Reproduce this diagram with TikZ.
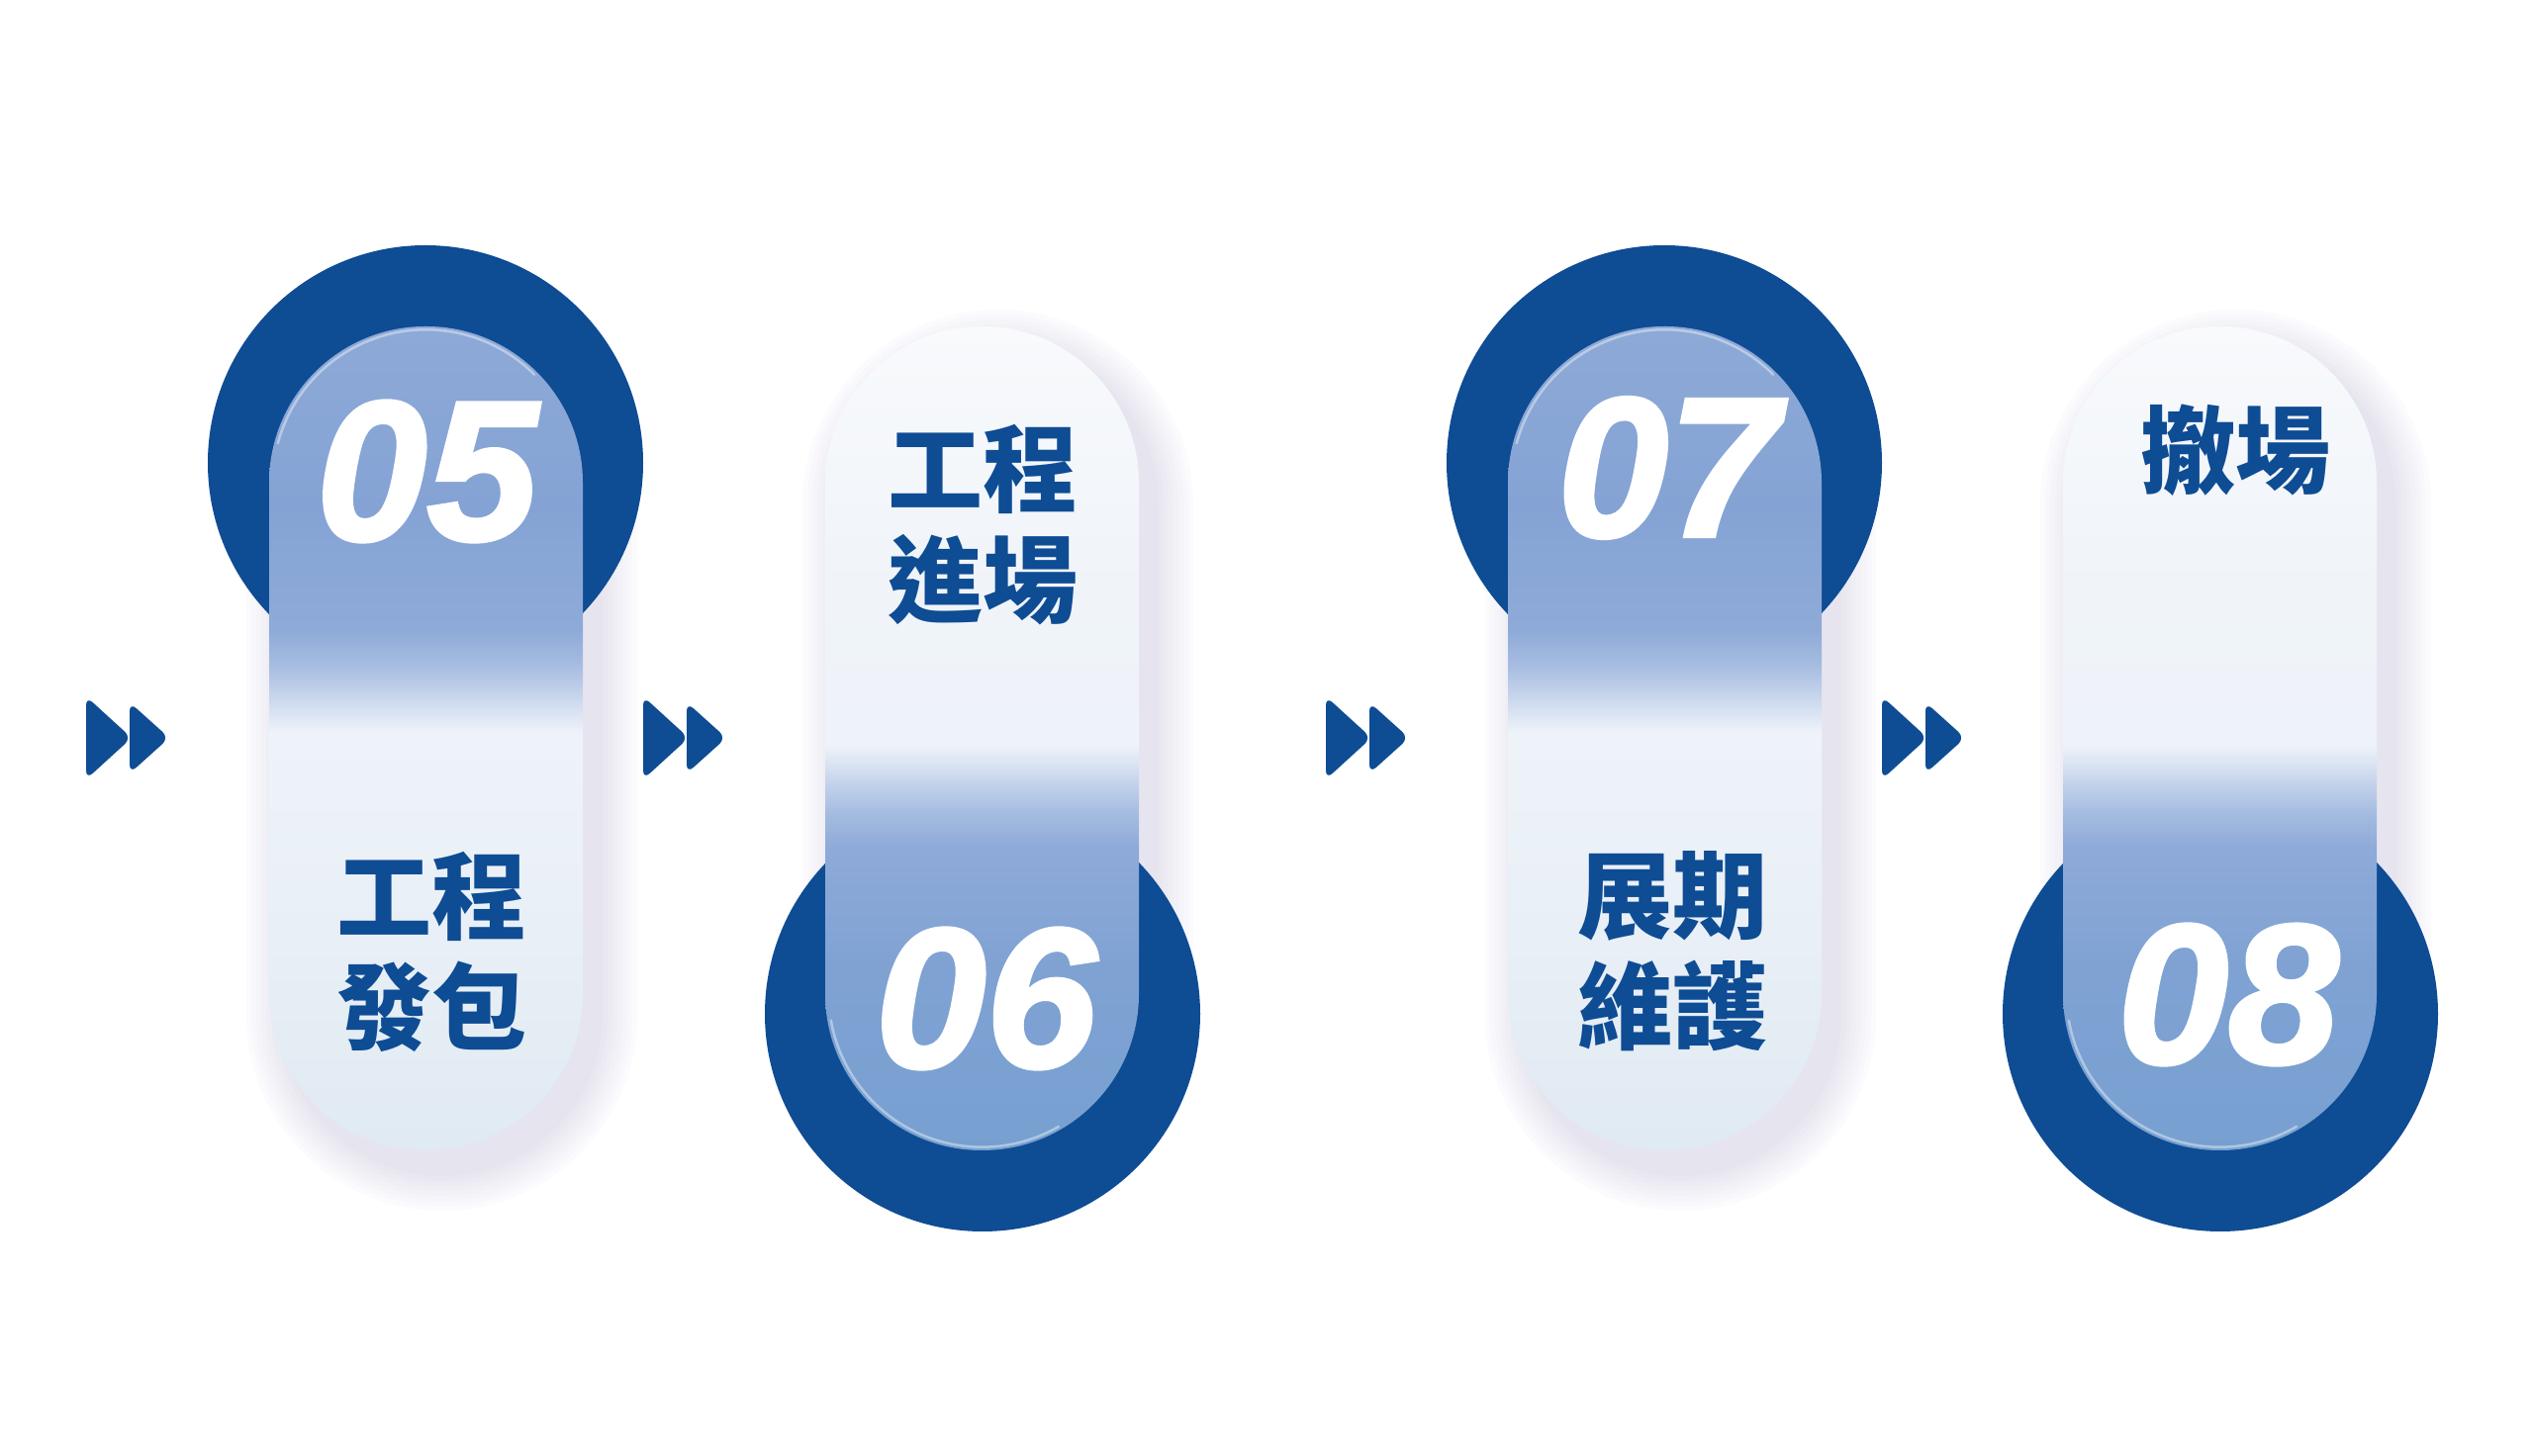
\documentclass[tikz,border=0pt]{standalone}
\usepackage{fontspec}
\setmainfont{Liberation Sans}
\newfontfamily\numfont{Liberation Sans}[UprightFont=* Bold Italic, FakeBold=2]
\newfontfamily\cjkfont{Noto Sans CJK TC}
\definecolor{deepblue}{HTML}{0E4C94}
\definecolor{glasstop}{HTML}{8DA9D7}
\definecolor{glassblue}{HTML}{84A3D4}
\definecolor{glassdeep}{HTML}{77A0D0}
\definecolor{glassmid}{HTML}{7FA2D3}
\definecolor{fadeone}{HTML}{8EAAD8}
\definecolor{fadetwo}{HTML}{A7BDE1}
\definecolor{fadethree}{HTML}{CAD7ED}
\definecolor{pillwhite}{HTML}{EEF3F9}
\definecolor{pillmist}{HTML}{EAF0F7}
\definecolor{pillbase}{HTML}{E0EAF2}
\definecolor{pilltop}{HTML}{F8FAFC}
\definecolor{pillpale}{HTML}{F0F4F9}
\definecolor{haze}{HTML}{B0ACD6}

\pgfdeclareverticalshading{glassdown}{100bp}{color(0bp)=(pillbase); color(25bp)=(pillbase); color(40.8bp)=(pillmist); color(50.4bp)=(pillwhite); color(52.4bp)=(fadethree); color(54.4bp)=(fadetwo); color(56.6bp)=(fadeone); color(64bp)=(glassblue); color(75bp)=(glasstop); color(100bp)=(glasstop)}
\pgfdeclareverticalshading{glassup}{100bp}{color(0bp)=(glassdeep); color(25bp)=(glassdeep); color(36bp)=(glassmid); color(43.4bp)=(fadeone); color(45.6bp)=(fadetwo); color(47.6bp)=(fadethree); color(49.6bp)=(pillwhite); color(59.2bp)=(pillpale); color(75bp)=(pilltop); color(100bp)=(pilltop)}

\tikzset{
    disc/.style={circle, fill=deepblue, minimum size=440pt, inner sep=0pt},
    pill/.style={rectangle, rounded corners=158pt, minimum width=317pt, minimum height=833pt, inner sep=0pt},
    num/.style={text=white, inner sep=0pt, font=\numfont\fontsize{201}{201}\selectfont},
    stage/.style={text=deepblue, align=center, inner sep=0pt, font=\cjkfont\bfseries\fontsize{96}{112}\selectfont},
    rim/.style={white, opacity=0.4, line width=2.5pt, line cap=round},
    play/.style={fill=deepblue, rounded corners=9pt}
}

\begin{document}
\begin{tikzpicture}[x=1pt, y=1pt]
                \useasboundingbox[fill=white] (0,0) rectangle (2560,1472);

                % soft shade behind the pills
                \foreach \px in {446.5,1008.5,1698.5,2259.5}
                    \foreach \rr in {162.5,167.5,...,197.5}
                        \fill[haze, opacity=0.04] (\px-\rr,445.5) -- (\px-\rr,961.5) arc[start angle=180, end angle=0, radius=\rr] -- (\px+\rr,445.5) arc[start angle=0, end angle=-180, radius=\rr] -- cycle;

                \node[disc] (c1) at (430,1004) {};
                \node[disc] (c2) at (993,447) {};
                \node[disc] (c3) at (1682,1004) {};
                \node[disc] (c4) at (2244,447) {};

                \node[pill, shading=glassdown] (p1) at (430.5,725.5) {};
                \node[pill, shading=glassup] (p2) at (992.5,725.5) {};
                \node[pill, shading=glassdown] (p3) at (1682.5,725.5) {};
                \node[pill, shading=glassup] (p4) at (2243.5,725.5) {};

                % glass edge
                \draw[rim] ([yshift=-158.5pt]p1.north) ++(165:155) arc[start angle=165, end angle=45, radius=155];
                \draw[rim] ([yshift=158.5pt]p2.south) ++(190:155) arc[start angle=190, end angle=300, radius=155];
                \draw[rim] ([yshift=-158.5pt]p3.north) ++(165:155) arc[start angle=165, end angle=45, radius=155];
                \draw[rim] ([yshift=158.5pt]p4.south) ++(190:155) arc[start angle=190, end angle=300, radius=155];

                \node[num] (n1) at (431.5,995.5) {05};
                \node[num] (n2) at (996.5,462.5) {06};
                \node[num] (n3) at (1686,999) {07};
                \node[num] (n4) at (2252,466.5) {08};

                \node[stage] (t1) at (436,510) {工程\\發包};
                \node[stage] (t2) at (993,941) {工程\\進場};
                \node[stage] (t3) at (1690,510) {展期\\維護};
                \node[stage] (t4) at (2259,1017) {撤場};

                % Forward marks
                \fill[play] (87,768) -- (133,726) -- (87,684) -- cycle;
                \fill[play] (131,762) -- (171,726) -- (131,690) -- cycle;
                \fill[play] (650,768) -- (696,726) -- (650,684) -- cycle;
                \fill[play] (694,762) -- (734,726) -- (694,690) -- cycle;
                \fill[play] (1340,768) -- (1386,726) -- (1340,684) -- cycle;
                \fill[play] (1384,762) -- (1424,726) -- (1384,690) -- cycle;
                \fill[play] (1902,768) -- (1948,726) -- (1902,684) -- cycle;
                \fill[play] (1946,762) -- (1986,726) -- (1946,690) -- cycle;

\end{tikzpicture}
\end{document}
